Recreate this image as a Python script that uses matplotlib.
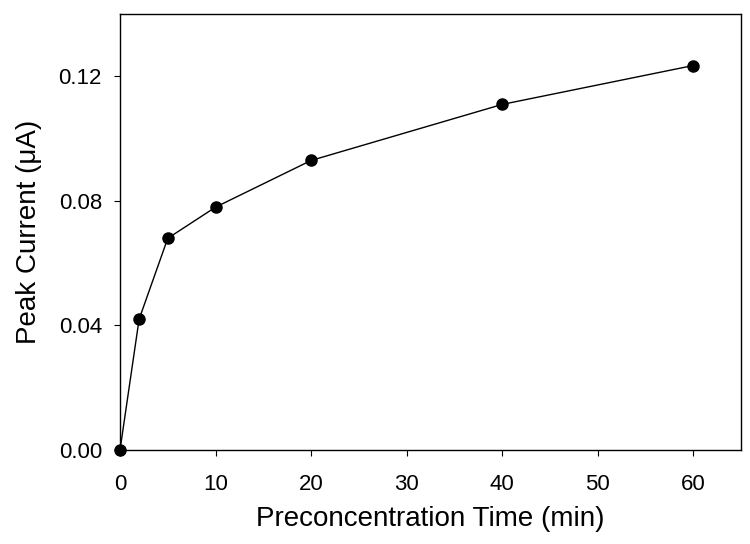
import matplotlib.pyplot as plt

plt.rcParams['font.family'] = ['Liberation Sans', 'DejaVu Sans']

# data
time_min = [0, 2, 5, 10, 20, 40, 60]
peak_current = [0.0, 0.042, 0.068, 0.078, 0.093, 0.111, 0.1235]

fig = plt.figure(figsize=(7.5, 5.44), dpi=100)
ax = fig.add_axes([0.16, 0.1728, 0.828, 0.8012])

ax.plot(time_min, peak_current, color='black', linewidth=1, marker='o',
        markersize=8, clip_on=False, zorder=3)

ax.set_xlim(0, 65)
ax.set_ylim(0, 0.14)
ax.set_xticks([0, 10, 20, 30, 40, 50, 60])
ax.set_yticks([0.00, 0.04, 0.08, 0.12])
ax.set_yticklabels(['0.00', '0.04', '0.08', '0.12'])
ax.tick_params(direction='out', length=4, width=0.8, labelsize=16)
ax.tick_params(axis='x', pad=13)
ax.tick_params(axis='y', pad=9)

ax.set_xlabel('Preconcentration Time (min)', fontsize=20, labelpad=8)
ax.set_ylabel('Peak Current (\u03bcA)', fontsize=20, labelpad=12)

for s in ax.spines.values():
    s.set_linewidth(1)

plt.savefig('out.png', dpi=100)
